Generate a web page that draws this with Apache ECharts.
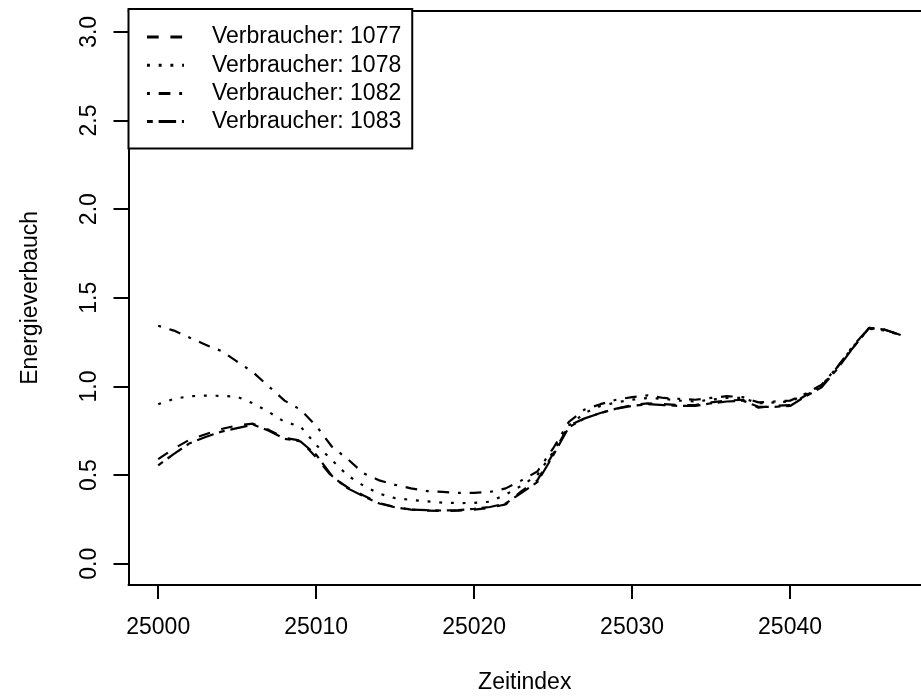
<!DOCTYPE html>
<html>
<head>
<meta charset="utf-8">
<script src="https://cdn.jsdelivr.net/npm/echarts@6/dist/echarts.min.js"></script>
<style>
  html, body { margin: 0; padding: 0; background: #ffffff; }
  #chart { width: 921px; height: 699px; }
</style>
</head>
<body>
<div id="chart"></div>
<script>
// Zeitindex 25000 ... 25047
const startIndex = 25000;
const pointCount = 48;
const zeitindex = Array.from({ length: pointCount }, (_, i) => startIndex + i);

const verbraucherNamen = ['Verbraucher: 1077', 'Verbraucher: 1078', 'Verbraucher: 1082', 'Verbraucher: 1083'];

const v1077 = [
  0.59, 0.65, 0.70, 0.73, 0.76, 0.78, 0.79, 0.755, 0.71, 0.695,
  0.60, 0.49, 0.43, 0.385, 0.342, 0.32, 0.305, 0.30, 0.297, 0.30,
  0.305, 0.315, 0.335, 0.41, 0.47, 0.62, 0.78, 0.82, 0.85, 0.875,
  0.895, 0.905, 0.90, 0.895, 0.895, 0.91, 0.92, 0.925, 0.88, 0.89,
  0.895, 0.95, 1.00, 1.11, 1.22, 1.33, 1.32, 1.29
];
const v1078 = [
  0.90, 0.93, 0.945, 0.948, 0.947, 0.942, 0.905, 0.856, 0.80, 0.775,
  0.67, 0.585, 0.497, 0.44, 0.395, 0.37, 0.36, 0.352, 0.345, 0.342,
  0.343, 0.35, 0.39, 0.44, 0.50, 0.63, 0.78, 0.85, 0.89, 0.91,
  0.925, 0.935, 0.93, 0.92, 0.915, 0.925, 0.935, 0.935, 0.905, 0.91,
  0.915, 0.955, 1.005, 1.11, 1.225, 1.325, 1.315, 1.29
];
const v1082 = [
  1.342, 1.315, 1.275, 1.235, 1.20, 1.14, 1.08, 1.00, 0.92, 0.87,
  0.778, 0.66, 0.59, 0.51, 0.47, 0.445, 0.425, 0.41, 0.405, 0.40,
  0.40, 0.405, 0.425, 0.47, 0.52, 0.65, 0.80, 0.87, 0.90, 0.925,
  0.94, 0.95, 0.935, 0.93, 0.925, 0.935, 0.945, 0.94, 0.91, 0.915,
  0.92, 0.96, 1.01, 1.11, 1.23, 1.33, 1.32, 1.29
];
const v1083 = [
  0.555, 0.62, 0.68, 0.715, 0.745, 0.765, 0.785, 0.75, 0.705, 0.69,
  0.615, 0.495, 0.425, 0.38, 0.34, 0.318, 0.305, 0.302, 0.30, 0.302,
  0.31, 0.32, 0.34, 0.40, 0.46, 0.61, 0.77, 0.82, 0.85, 0.875,
  0.89, 0.90, 0.895, 0.89, 0.89, 0.905, 0.915, 0.92, 0.885, 0.885,
  0.89, 0.945, 0.995, 1.10, 1.22, 1.33, 1.32, 1.29
];

const xTicks = [25000, 25010, 25020, 25030, 25040];
const yTicks = [0, 0.5, 1, 1.5, 2, 2.5, 3];

// line patterns: dashed, dotted, dot-dash, two-dash
const linePatterns = [
  [11.7, 11.7],
  [2.9, 8.8],
  [2.9, 8.8, 11.7, 8.8],
  [5.8, 5.8, 17.5, 5.8]
];
const werte = [v1077, v1078, v1082, v1083];

const FONT = '"Liberation Sans", Arial, Helvetica, sans-serif';
const FS = 23;
const X_MIN = 24998.12;
const X_MAX = 25048.29;   // plot frame continues past the right edge of the canvas

const chart = echarts.init(document.getElementById('chart'), null, { renderer: 'canvas' });

const series = verbraucherNamen.map((name, k) => ({
  name: name,
  type: 'line',
  xAxisIndex: 0,
  yAxisIndex: 0,
  data: zeitindex.map((x, i) => [x, werte[k][i]]),
  symbol: 'none',
  smooth: false,
  animation: false,
  itemStyle: { color: '#000000' },
  lineStyle: { color: '#000000', width: 2.2, type: linePatterns[k], cap: 'butt' }
}));

const frameLine = { show: true, onZero: false, lineStyle: { color: '#000000', width: 2 } };

chart.setOption({
  animation: false,
  backgroundColor: '#ffffff',
  textStyle: { fontFamily: FONT, color: '#000000' },
  grid: { left: 128.5, top: 10.6, right: 0, bottom: 110.6, show: false },
  legend: {
    data: verbraucherNamen,
    orient: 'vertical',
    left: 128.5,
    top: 9,
    padding: [16, 11, 15, 17],
    itemWidth: 37,
    itemHeight: 14,
    itemGap: 4.2,
    borderColor: '#000000',
    borderWidth: 2,
    backgroundColor: '#ffffff',
    selectedMode: false,
    itemStyle: { opacity: 0 },
    lineStyle: { width: 3 },
    textStyle: { fontFamily: FONT, fontSize: FS, color: '#000000', lineHeight: 24, padding: [0, 0, 0, 23] }
  },
  xAxis: [
    {
      type: 'value',
      position: 'bottom',
      min: X_MIN,
      max: X_MAX,
      name: 'Zeitindex',
      nameLocation: 'middle',
      nameGap: 86,
      nameTextStyle: { fontFamily: FONT, fontSize: FS, color: '#000000' },
      axisLine: frameLine,
      splitLine: { show: false },
      axisTick: { show: true, inside: false, length: 14, customValues: xTicks, lineStyle: { color: '#000000', width: 2 } },
      axisLabel: {
        show: true, margin: 31, customValues: xTicks,
        fontFamily: FONT, fontSize: FS, color: '#000000',
        formatter: v => String(Math.round(v))
      }
    },
    {
      // upper edge of the plot frame
      type: 'value',
      position: 'top',
      min: X_MIN,
      max: X_MAX,
      axisLine: frameLine,
      axisTick: { show: false },
      axisLabel: { show: false },
      splitLine: { show: false }
    }
  ],
  yAxis: {
    type: 'value',
    min: -0.12,
    max: 3.12,
    name: 'Energieverbauch',
    nameLocation: 'middle',
    nameRotate: 90,
    nameGap: 86,
    nameTextStyle: { fontFamily: FONT, fontSize: FS, color: '#000000' },
    axisLine: frameLine,
    splitLine: { show: false },
    axisTick: { show: true, inside: false, length: 15, customValues: yTicks, lineStyle: { color: '#000000', width: 2 } },
    axisLabel: {
      show: true, rotate: 90, margin: 27, customValues: yTicks,
      fontFamily: FONT, fontSize: FS, color: '#000000',
      formatter: v => v.toFixed(1)
    }
  },
  series: series
});
</script>
</body>
</html>
